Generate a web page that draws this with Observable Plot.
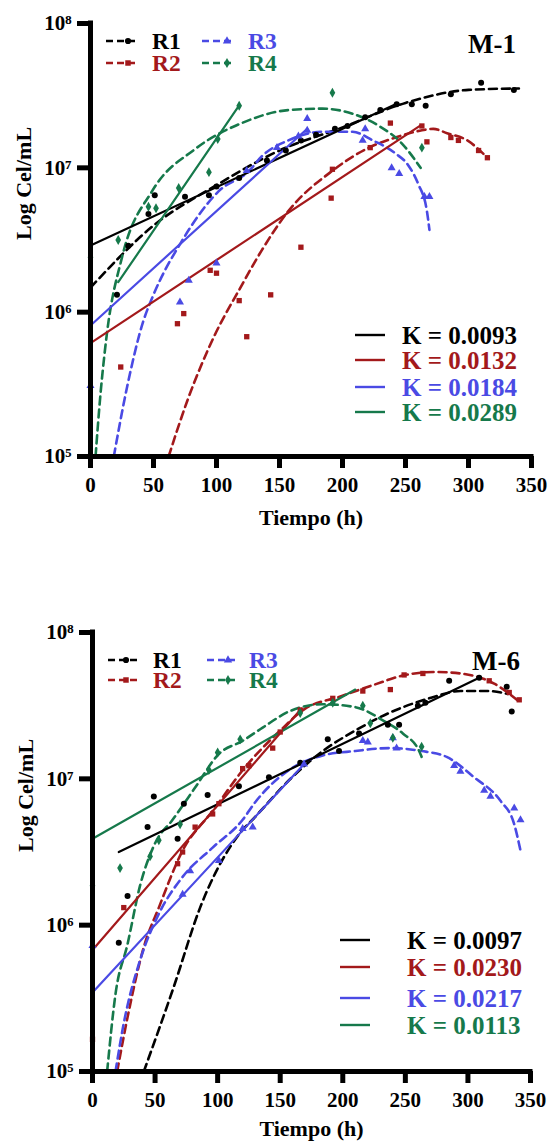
<!DOCTYPE html>
<html>
<head>
<meta charset="utf-8">
<script src="https://cdn.jsdelivr.net/npm/d3@7"></script>
<script src="https://cdn.jsdelivr.net/npm/@observablehq/plot@0.6"></script>
<style>
html, body { margin: 0; padding: 0; background: #fff; }
#chart { width: 548px; }
#chart svg { display: block; }
</style>
</head>
<body>
<div id="chart"></div>
<script>
// ---------- shared categories / labels ----------
const seriesNames = ["R1", "R2", "R3", "R4"];
const seriesColors = ["#000000", "#a3191b", "#4a4ae4", "#16794b"];
const seriesSymbols = ["circle", "square", "triangle", "diamond"];
const xTicks = [0, 50, 100, 150, 200, 250, 300, 350];
const yTicks = [1e5, 1e6, 1e7, 1e8];
const yTickLabels = ["10⁵", "10⁶", "10⁷", "10⁸"];
const xLabel = "Tiempo (h)";
const yLabel = "Log Cel/mL";
const kLabelsM1 = ["K = 0.0093", "K = 0.0132", "K = 0.0184", "K = 0.0289"];
const kLabelsM6 = ["K = 0.0097", "K = 0.0230", "K = 0.0217", "K = 0.0113"];

// ---------- M-1 : measured points (time h, log10 cel/mL) ----------
const m1R1Time = [21, 30, 46, 51, 75, 94, 100, 118, 140, 155, 167, 179, 194, 204, 218, 230, 243, 255, 266, 286, 310, 336];
const m1R1Log  = [6.12, 6.46, 6.68, 6.81, 6.80, 6.81, 6.87, 6.93, 7.05, 7.12, 7.19, 7.23, 7.27, 7.29, 7.35, 7.40, 7.44, 7.44, 7.43, 7.51, 7.59, 7.54];
const m1R2Time = [24, 69, 74, 95, 100, 118, 124, 143, 167, 191, 192, 222, 238, 263, 267, 286, 292, 308, 315];
const m1R2Log  = [5.62, 5.92, 5.99, 6.29, 6.27, 6.08, 5.83, 6.12, 6.45, 6.79, 6.99, 7.14, 7.31, 7.29, 7.18, 7.21, 7.19, 7.12, 7.07];
const m1R3Time = [0, 71, 78, 100, 124, 148, 165, 172, 172, 216, 218, 239, 245, 265, 269];
const m1R3Log  = [5.49, 6.07, 6.22, 6.34, 6.98, 7.14, 7.22, 7.34, 7.26, 7.19, 7.27, 7.00, 6.96, 6.80, 6.80];
const m1R4Time = [0, 22, 46, 52, 70, 94, 101, 118, 192, 263];
const m1R4Log  = [6.38, 6.50, 6.73, 6.72, 6.86, 6.97, 7.20, 7.43, 7.52, 7.14];

// ---------- M-1 : polynomial fit curves (dashed) ----------
const m1R1FitTime = [0, 50, 100, 150, 200, 250, 300, 340];
const m1R1FitLog  = [6.17, 6.60, 6.88, 7.12, 7.28, 7.45, 7.54, 7.55];
const m1R2FitTime = [62, 77, 98, 119, 136, 157, 192, 221, 242, 263, 272, 283, 299, 315];
const m1R2FitLog  = [5.00, 5.39, 5.83, 6.17, 6.43, 6.70, 6.98, 7.14, 7.21, 7.26, 7.27, 7.24, 7.19, 7.07];
const m1R3FitTime = [18.5, 29, 42, 49, 73, 102, 126, 136, 157, 184, 208, 224, 242, 252, 260, 267, 269];
const m1R3FitLog  = [5.00, 5.48, 5.94, 6.10, 6.50, 6.84, 6.98, 7.08, 7.19, 7.25, 7.25, 7.19, 7.10, 7.02, 6.89, 6.70, 6.57];
const m1R4FitTime = [4, 8, 11, 13, 25, 49, 83, 120, 157, 184, 208, 229, 247, 262];
const m1R4FitLog  = [5.00, 5.44, 5.70, 5.85, 6.38, 6.84, 7.13, 7.31, 7.40, 7.41, 7.375, 7.29, 7.17, 7.00];

// ---------- M-1 : exponential-phase linear fits (solid) ----------
const m1R1LinTime = [0, 243];   const m1R1LinLog = [6.462, 7.444];
const m1R2LinTime = [0, 262];   const m1R2LinLog = [5.785, 7.294];
const m1R3LinTime = [0, 172];   const m1R3LinLog = [5.908, 7.271];
const m1R4LinTime = [22, 118];  const m1R4LinLog = [6.208, 7.432];

// ---------- M-6 : measured points ----------
const m6R1Time = [21, 28, 44, 49, 68, 73, 92, 117, 141, 166, 188, 197, 213, 236, 245, 260, 266, 285, 309, 331, 335];
const m6R1Log  = [5.88, 6.20, 6.67, 6.88, 6.59, 6.83, 6.89, 6.95, 7.01, 7.11, 7.27, 7.19, 7.31, 7.37, 7.37, 7.50, 7.52, 7.67, 7.69, 7.63, 7.46];
const m6R2Time = [0, 25, 68, 72, 82, 96, 101, 120, 125, 144, 150, 166, 192, 216, 238, 249, 264, 317, 333, 341];
const m6R2Log  = [5.22, 6.12, 6.42, 6.50, 6.67, 6.76, 6.83, 7.07, 7.09, 7.21, 7.32, 7.47, 7.55, 7.60, 7.61, 7.71, 7.72, 7.67, 7.59, 7.54];
const m6R3Time = [0, 72, 78, 101, 120, 128, 169, 216, 220, 240, 243, 289, 294, 313, 318, 337, 342];
const m6R3Log  = [5.86, 6.21, 6.37, 6.44, 6.66, 6.67, 7.10, 7.26, 7.25, 7.28, 7.21, 7.09, 7.05, 6.92, 6.88, 6.80, 6.72];
const m6R4Time = [0, 22, 46, 53, 70, 93, 100, 118, 166, 192, 216, 222, 240, 263];
const m6R4Log  = [6.27, 6.39, 6.47, 6.58, 6.69, 7.06, 7.18, 7.27, 7.45, 7.52, 7.50, 7.38, 7.28, 7.22];

// ---------- M-6 : polynomial fit curves (dashed) ----------
const m6R1FitTime = [41, 65, 86, 117, 130, 157, 184, 210, 237, 269, 294, 316, 332];
const m6R1FitLog  = [5.00, 5.58, 6.12, 6.62, 6.74, 6.99, 7.19, 7.33, 7.45, 7.55, 7.60, 7.60, 7.58];
const m6R2FitTime = [19.7, 28, 41, 53, 72, 96, 122, 150, 170, 197, 224, 250, 274, 294, 321, 342];
const m6R2FitLog  = [5.00, 5.37, 5.85, 6.12, 6.51, 6.78, 7.08, 7.33, 7.48, 7.56, 7.64, 7.71, 7.73, 7.72, 7.65, 7.52];
const m6R3FitTime = [18.4, 25, 38, 52, 72, 96, 120, 130, 157, 184, 210, 237, 263, 283, 305, 326, 337, 342];
const m6R3FitLog  = [5.00, 5.33, 5.76, 6.06, 6.33, 6.53, 6.72, 6.84, 7.06, 7.16, 7.19, 7.21, 7.19, 7.15, 7.01, 6.85, 6.69, 6.51];
const m6R4FitTime = [11.7, 18.4, 28, 38, 50, 64, 82, 101, 120, 136, 157, 184, 210, 232, 248, 261, 263];
const m6R4FitLog  = [5.00, 5.53, 5.87, 6.27, 6.56, 6.72, 6.94, 7.17, 7.26, 7.35, 7.46, 7.51, 7.49, 7.40, 7.31, 7.19, 7.15];

// ---------- M-6 : linear fits (solid) ----------
const m6R1LinTime = [21, 309];  const m6R1LinLog = [6.50, 7.69];
const m6R2LinTime = [0, 167];   const m6R2LinLog = [5.83, 7.48];
const m6R3LinTime = [0, 169];   const m6R3LinLog = [5.54, 7.10];
const m6R4LinTime = [0, 210];   const m6R4LinLog = [6.59, 7.61];

// ---------- helpers ----------
const FONT = "'Liberation Serif','Times New Roman',Times,serif";
function rows(name, times, logs) {
  return times.map((t, i) => ({s: name, t, v: Math.pow(10, logs[i])}));
}
const d3Symbols = {circle: d3.symbolCircle, square: d3.symbolSquare, triangle: d3.symbolTriangle, diamond: d3.symbolDiamond};

function drawPanel(cfg) {
  const svg = Plot.plot({
    width: 548,
    height: cfg.height,
    marginTop: cfg.mt,
    marginBottom: cfg.mb,
    marginLeft: cfg.ml,
    marginRight: cfg.mr,
    style: {fontFamily: FONT, fontWeight: "bold", color: "#000", background: "#fff", overflow: "visible"},
    x: {domain: [0, 350]},
    y: {type: "log", domain: [1e5, 1e8]},
    color: {domain: seriesNames, range: seriesColors},
    symbol: {domain: seriesNames, range: seriesSymbols},
    marks: [
      Plot.line(cfg.fits, {x: "t", y: "v", z: "s", stroke: "s", strokeWidth: 2.6, strokeDasharray: "8,5", curve: "monotone-x"}),
      Plot.line(cfg.lines, {x: "t", y: "v", z: "s", stroke: "s", strokeWidth: 2.2}),
      Plot.dot(cfg.points, {x: "t", y: "v", fill: "s", symbol: "s", r: 3, stroke: "none"}),
      Plot.ruleX([0], {strokeWidth: 5, strokeLinecap: "square"}),
      Plot.ruleY([1e5], {strokeWidth: 5, strokeLinecap: "square"}),
      Plot.axisX({ticks: xTicks, tickSize: 12, tickPadding: 9, strokeWidth: 5, fontSize: 21, fontWeight: "bold", label: null, tickFormat: d => String(d)}),
      Plot.axisY({ticks: yTicks, tickSize: 13, tickPadding: 6, strokeWidth: 5, fontSize: 21, fontWeight: "bold", label: null, tickFormat: d => yTickLabels[yTicks.indexOf(d)]}),
      Plot.text([xLabel], {frameAnchor: "bottom", dy: cfg.xLabelDy, fontSize: 22, fontWeight: "bold", lineAnchor: "middle"}),
      Plot.text([yLabel], {frameAnchor: "left", dx: -67, rotate: -90, fontSize: 22, fontWeight: "bold", lineAnchor: "middle"})
    ]
  });

  const g = d3.select(svg).append("g")
    .attr("font-family", FONT).attr("font-weight", "bold").attr("text-anchor", "start");
  // series legend (dashed sample + marker + label)
  seriesNames.forEach((name, i) => {
    const col = cfg.legCols[Math.floor(i / 2)];
    const y = cfg.legRows[i % 2];
    g.append("line").attr("x1", col.x0).attr("x2", col.x1).attr("y1", y).attr("y2", y)
      .attr("stroke", seriesColors[i]).attr("stroke-width", 2.6).attr("stroke-dasharray", "7,4");
    g.append("path").attr("transform", `translate(${col.mx},${y})`)
      .attr("d", d3.symbol(d3Symbols[seriesSymbols[i]], 30)()).attr("fill", seriesColors[i]);
    g.append("text").attr("x", col.tx).attr("y", y + 8).attr("font-size", 23.5)
      .attr("text-anchor", "start").attr("fill", seriesColors[i]).text(name);
  });
  // panel title
  g.append("text").attr("x", cfg.titleX).attr("y", cfg.titleY).attr("font-size", 27)
    .attr("text-anchor", "start").attr("fill", "#000").text(cfg.title);
  // K legend
  cfg.kLabels.forEach((lab, i) => {
    const y = cfg.kRows[i];
    g.append("line").attr("x1", cfg.kx0).attr("x2", cfg.kx1).attr("y1", y).attr("y2", y)
      .attr("stroke", seriesColors[i]).attr("stroke-width", 2.4);
    g.append("text").attr("x", cfg.ktx).attr("y", y + 8.5).attr("font-size", 25)
      .attr("text-anchor", "start").attr("fill", seriesColors[i]).text(lab);
  });
  return svg;
}

const m1Points = [...rows("R1", m1R1Time, m1R1Log), ...rows("R2", m1R2Time, m1R2Log), ...rows("R3", m1R3Time, m1R3Log), ...rows("R4", m1R4Time, m1R4Log)];
const m1Fits = [...rows("R1", m1R1FitTime, m1R1FitLog), ...rows("R2", m1R2FitTime, m1R2FitLog), ...rows("R3", m1R3FitTime, m1R3FitLog), ...rows("R4", m1R4FitTime, m1R4FitLog)];
const m1Lines = [...rows("R1", m1R1LinTime, m1R1LinLog), ...rows("R2", m1R2LinTime, m1R2LinLog), ...rows("R3", m1R3LinTime, m1R3LinLog), ...rows("R4", m1R4LinTime, m1R4LinLog)];

const m6Points = [...rows("R1", m6R1Time, m6R1Log), ...rows("R2", m6R2Time, m6R2Log), ...rows("R3", m6R3Time, m6R3Log), ...rows("R4", m6R4Time, m6R4Log)];
const m6Fits = [...rows("R1", m6R1FitTime, m6R1FitLog), ...rows("R2", m6R2FitTime, m6R2FitLog), ...rows("R3", m6R3FitTime, m6R3FitLog), ...rows("R4", m6R4FitTime, m6R4FitLog)];
const m6Lines = [...rows("R1", m6R1LinTime, m6R1LinLog), ...rows("R2", m6R2LinTime, m6R2LinLog), ...rows("R3", m6R3LinTime, m6R3LinLog), ...rows("R4", m6R4LinTime, m6R4LinLog)];

const chart = document.getElementById("chart");
chart.append(drawPanel({
  height: 571, mt: 23, mb: 115, ml: 90, mr: 17, xLabelDy: 61,
  points: m1Points, fits: m1Fits, lines: m1Lines,
  legCols: [{x0: 106, x1: 136, mx: 128, tx: 152}, {x0: 202, x1: 233, mx: 227, tx: 248}],
  legRows: [41, 63],
  title: "M-1", titleX: 468, titleY: 53,
  kLabels: kLabelsM1, kx0: 355, kx1: 385, kRows: [335, 360, 387, 412], ktx: 402
}));
chart.append(drawPanel({
  height: 570, mt: 61, mb: 70, ml: 92, mr: 18, xLabelDy: 57,
  points: m6Points, fits: m6Fits, lines: m6Lines,
  legCols: [{x0: 108, x1: 137, mx: 126, tx: 153}, {x0: 207, x1: 235, mx: 228, tx: 249}],
  legRows: [89, 109],
  title: "M-6", titleX: 472, titleY: 99,
  kLabels: kLabelsM6, kx0: 340, kx1: 370, kRows: [369, 396, 427, 454], ktx: 407
}));
</script>
</body>
</html>
